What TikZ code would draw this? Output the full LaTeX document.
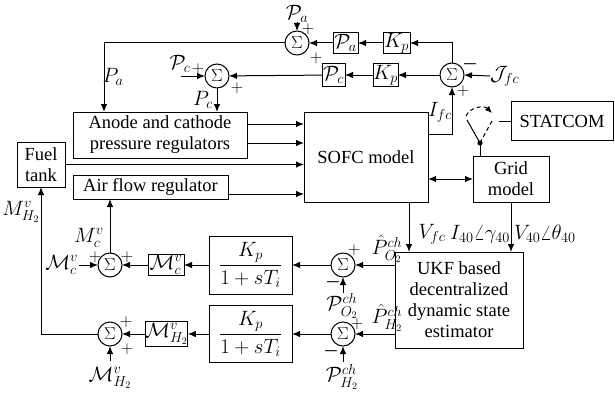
\documentclass[tikz,border=0pt]{standalone}
\usepackage{amsmath}
\usepackage{fontspec}
\setmainfont{Liberation Serif}
\newfontfamily\diagserif{Liberation Serif}
\usetikzlibrary{arrows.meta}
\begin{document}
\begin{tikzpicture}[x=1pt,y=-1pt,
  every node/.style={inner sep=0pt,outer sep=0pt},
  txt/.style={font=\diagserif\fontsize{18.5}{21}\selectfont},
  mtxt/.style={font=\diagserif\fontsize{20}{22}\selectfont},
  blk/.style={draw,line width=1pt,txt,align=center},
  mblk/.style={draw,line width=1pt,mtxt,align=center},
  sumnode/.style={draw,circle,line width=1pt,minimum size=24pt,
    font=\fontsize{18}{18}\selectfont},
  sgn/.style={font=\fontsize{17}{17}\selectfont},
  lbl/.style={mtxt},
  arr/.style={line width=1pt,-{Latex[length=8pt,width=6.5pt]}},
  arrboth/.style={line width=1pt,{Latex[length=8pt,width=6.5pt]}-{Latex[length=8pt,width=6.5pt]}},
  ln/.style={line width=1pt}]
\useasboundingbox (0,0) rectangle (615,396);

% ---- top feedback path (pressure references)
\node[sumnode] (sa) at (297,43) {$\Sigma$};
\node[mblk,minimum width=25pt,minimum height=21pt] (pa) at (345.5,43) {$\mathcal{P}_a$};
\node[mblk,minimum width=27pt,minimum height=21pt] (kpa) at (396.5,43) {$K_p$};
\node[sumnode] (sr) at (452,75) {$\Sigma$};
\node[mblk,minimum width=25pt,minimum height=23pt] (kpc) at (385.5,75) {$K_p$};
\node[mblk,minimum width=23pt,minimum height=23pt] (pc) at (333.5,75) {$\mathcal{P}_c$};
\node[sumnode] (sc) at (217,76) {$\Sigma$};

% ---- plant blocks
\node[blk,minimum width=174pt,minimum height=46pt] (anode) at (160,135) {Anode and cathode\\pressure regulators};
\node[blk,minimum width=124pt,minimum height=90pt] (sofc) at (366,157) {SOFC model};
\node[blk,minimum width=48pt,minimum height=45pt] (fuel) at (41,164.5) {Fuel\\tank};
\node[blk,minimum width=155pt,minimum height=24pt] (air) at (150.5,187) {Air flow regulator};
\node[blk,minimum width=76pt,minimum height=46pt] (grid) at (511,179) {Grid\\model};
\node[blk,minimum width=102pt,minimum height=39pt] (statcom) at (562,121) {STATCOM};
\node[blk,minimum width=128pt,minimum height=96pt] (ukf) at (459,300) {UKF based\\decentralized\\dynamic state\\estimator};

% ---- lower control loops
\node[sumnode] (so2) at (343,265) {$\Sigma$};
\node[sumnode] (sh2) at (343,334) {$\Sigma$};
\node[mblk,minimum width=83pt,minimum height=58pt] (tf1) at (250.5,265) {$\dfrac{K_p}{1+sT_i}$};
\node[mblk,minimum width=83pt,minimum height=57pt] (tf2) at (250.5,334) {$\dfrac{K_p}{1+sT_i}$};
\node[mblk,minimum width=36pt,minimum height=21pt] (mc) at (166,265) {$\mathcal{M}^{v}_{c}$};
\node[mblk,minimum width=41pt,minimum height=25pt] (mh) at (166.5,334) {$\mathcal{M}^{v}_{H_2}$};
\node[sumnode] (smc) at (110,265) {$\Sigma$};
\node[sumnode] (smh) at (110,334) {$\Sigma$};

% ---- free ends of external inputs
\coordinate (pain) at (297,22);
\coordinate (pcin) at (181,76);
\coordinate (mcin) at (79,265);
\coordinate (mhin) at (110,361);
\coordinate (po2in) at (343,293);
\coordinate (ph2in) at (343,362);
\node[lbl,anchor=west] (jfc) at (490,76) {$\mathcal{J}_{fc}$};

% ---- connectors, top loop
\draw[arr] (sr.north) |- (kpa.east);
\draw[arr] (kpa) -- (pa);
\draw[arr] (pa) -- (sa);
\draw[arr] (pain) -- (sa.north);
\draw[arr] (sr) -- (kpc);
\draw[arr] (kpc) -- (pc);
\draw[arr] (pc) -- (sc);
\draw[arr] (pcin) -- (sc.west);
\draw[arr] (jfc.west) -- (sr.east);
\draw[arr] (sa.west) -| ([xshift=31pt]anode.north west);
\draw[arr] (sc.south) -- (sc.south |- anode.north);
\draw[arr] ([yshift=-22pt]sofc.north east) -| (sr.south);

% ---- connectors into SOFC
\draw[arr] ([yshift=-12pt]anode.north east) -- ([yshift=-12pt]anode.north east -| sofc.west);
\draw[arr] ([yshift=-31pt]anode.north east) -- ([yshift=-31pt]anode.north east -| sofc.west);
\draw[arr] (fuel.east) -- (fuel.east -| sofc.west);
\draw[arr] ([yshift=-7pt]air.east) -- ([yshift=-7pt]air.east -| sofc.west);
\draw[arrboth] (grid.west) -- (grid.west -| sofc.east);

% ---- measurements to the estimator
\draw[arr] ([xshift=-19pt]sofc.south east) -- ([xshift=-19pt]sofc.south east |- ukf.north);
\draw[arr] (grid.south) -- (grid.south |- ukf.north);

% ---- STATCOM switch
\coordinate (pivot) at (480,143);
\coordinate (bladeA) at (467,120);
\coordinate (bladeB) at (493,119);
\coordinate (contact) at (499,121);
\draw[ln] ([xshift=-31pt]grid.north) -- (pivot);
\draw[ln] (pivot) -- (bladeA);
\draw[ln,dashed,dash pattern=on 4pt off 3pt] (pivot) -- (bladeB);
\draw[ln,dashed,dash pattern=on 4pt off 3pt,-{Latex[length=7pt,width=6pt]}] (466,116) .. controls (470,107) and (484,105) .. (492,113);
\fill (pivot) circle (2.6pt);
\draw[ln] (statcom.west) -- (contact);

% ---- estimator outputs and lower loops
\draw[arr] (so2 -| ukf.west) -- (so2.east);
\draw[arr] (sh2 -| ukf.west) -- (sh2.east);
\draw[arr] (po2in) -- (so2.south);
\draw[arr] (ph2in) -- (sh2.south);
\draw[arr] (so2.west) -- (tf1.east);
\draw[arr] (sh2.west) -- (tf2.east);
\draw[arr] (tf1.west) -- (mc.east);
\draw[arr] (tf2.west) -- (mh.east);
\draw[arr] (mc.west) -- (smc.east);
\draw[arr] (mh.west) -- (smh.east);
\draw[arr] (mcin) -- (smc.west);
\draw[arr] (mhin) -- (smh.south);
\draw[arr] (smc.north) -- (smc.north |- air.south);
\draw[arr] (smh.west) -| (fuel.south);

% ---- signal labels
\node[lbl] at (297,13.5) {$\mathcal{P}_a$};
\node[lbl] at (113,77) {$P_a$};
\node[lbl] at (180,64) {$\mathcal{P}_c$};
\node[lbl] at (203,100) {$P_c$};
\node[lbl] at (440,112) {$I_{fc}$};
\node[lbl] at (432,234) {$V_{fc}$};
\node[lbl,anchor=east] at (510,234) {$I_{40}\angle\gamma_{40}$};
\node[lbl,anchor=west] at (514,234) {$V_{40}\angle\theta_{40}$};
\node[lbl] at (387,249) {$\hat{P}^{ch}_{O_2}$};
\node[lbl] at (387,318) {$\hat{P}^{ch}_{H_2}$};
\node[lbl] at (342,306) {$\mathcal{P}^{ch}_{O_2}$};
\node[lbl] at (342,377) {$\mathcal{P}^{ch}_{H_2}$};
\node[lbl] at (89,238) {$M^{v}_{c}$};
\node[lbl] at (21,212) {$M^{v}_{H_2}$};
\node[lbl,anchor=east] at (78,265) {$\mathcal{M}^{v}_{c}$};
\node[lbl] at (110,378) {$\mathcal{M}^{v}_{H_2}$};

% ---- summing-junction signs
\node[sgn] at (308,29) {$+$};
\node[sgn] at (316,58) {$+$};
\node[sgn] at (198,69) {$+$};
\node[sgn] at (237,88) {$+$};
\node[sgn] at (470,64) {$\boldsymbol{-}$};
\node[sgn] at (463,91) {$+$};
\node[sgn] at (95,257) {$+$};
\node[sgn] at (127,257) {$+$};
\node[sgn] at (126,322) {$+$};
\node[sgn] at (127,349) {$+$};
\node[sgn] at (354,250) {$+$};
\node[sgn] at (333,282) {$\boldsymbol{-}$};
\node[sgn] at (357,324) {$+$};
\node[sgn] at (331,351) {$\boldsymbol{-}$};
\end{tikzpicture}
\end{document}
